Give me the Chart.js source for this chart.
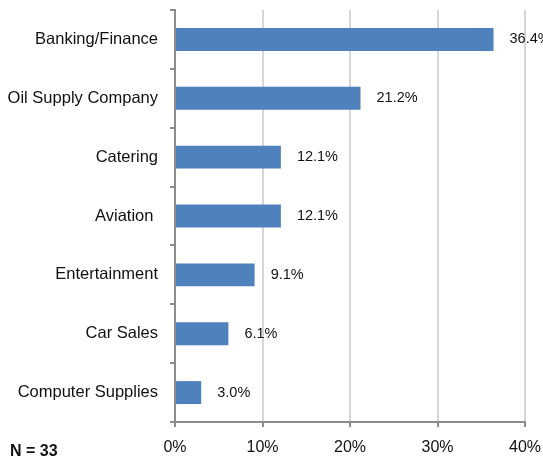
<!DOCTYPE html>
<html>
<head>
<meta charset="utf-8">
<script src="https://cdn.jsdelivr.net/npm/chart.js@4"></script>
<style>
  html, body { margin: 0; padding: 0; background: #fff; }
  #wrap { width: 543px; height: 459px; position: relative; }
</style>
</head>
<body>
<div id="wrap"><canvas id="bar-chart"></canvas></div>
<script>
const categories = [
    'Banking/Finance', 'Oil Supply Company', 'Catering', 'Aviation ',
    'Entertainment', 'Car Sales', 'Computer Supplies'
];
const shares = [36.4, 21.2, 12.1, 12.1, 9.1, 6.1, 3.0];
const xTicks = [0, 10, 20, 30, 40];
const sampleNote = 'N = 33';

const FONT = "'Liberation Sans', Arial, sans-serif";

// value labels to the right of each bar, plus the N note
const barLabels = {
    id: 'barLabels',
    afterDatasetsDraw(chart) {
        const ctx = chart.ctx;
        const meta = chart.getDatasetMeta(0);
        ctx.save();
        ctx.font = '14.5px ' + FONT;
        ctx.fillStyle = '#111';
        ctx.textAlign = 'left';
        ctx.textBaseline = 'middle';
        meta.data.forEach((bar, i) => {
            ctx.fillText(shares[i].toFixed(1) + '%', bar.x + 16, bar.y);
        });
        ctx.font = 'bold 16px ' + FONT;
        ctx.fillText(sampleNote, 10, 452);
        ctx.restore();
    }
};

const config = {
    type: 'bar',
    data: {
        labels: categories,
        datasets: [{
            data: shares,
            backgroundColor: '#4f81bd',
            categoryPercentage: 1,
            barPercentage: 0.39
        }]
    },
    options: {
        indexAxis: 'y',
        maintainAspectRatio: false,
        animation: false,
        layout: { padding: { top: 10, right: 18, left: 0, bottom: 0 } },
        plugins: {
            legend: { display: false },
            tooltip: { enabled: false }
        },
        scales: {
            x: {
                min: 0,
                max: 40,
                afterFit(scale) {
                    scale.height = 37;
                    scale.paddingLeft = 0;
                    scale.paddingRight = 0;
                },
                afterBuildTicks(scale) { scale.ticks = xTicks.map(v => ({ value: v })); },
                ticks: {
                    callback: v => v + '%',
                    color: '#111',
                    font: { family: FONT, size: 16 },
                    padding: 11
                },
                grid: {
                    color: '#d6d6d6',
                    lineWidth: 2,
                    tickColor: '#8c8c8c',
                    tickLength: 5
                },
                border: { color: '#8c8c8c', width: 2 }
            },
            y: {
                afterFit(scale) {
                    scale.width = 175;
                    scale.paddingTop = 0;
                    scale.paddingBottom = 0;
                },
                ticks: {
                    color: '#111',
                    font: { family: FONT, size: 16.5 },
                    padding: 12
                },
                grid: {
                    drawOnChartArea: false,
                    tickColor: '#8c8c8c',
                    tickLength: 5,
                    lineWidth: 2
                },
                border: { color: '#8c8c8c', width: 2 }
            }
        }
    },
    plugins: [barLabels]
};

const myChart = new Chart(document.getElementById('bar-chart'), config);
</script>
</body>
</html>
